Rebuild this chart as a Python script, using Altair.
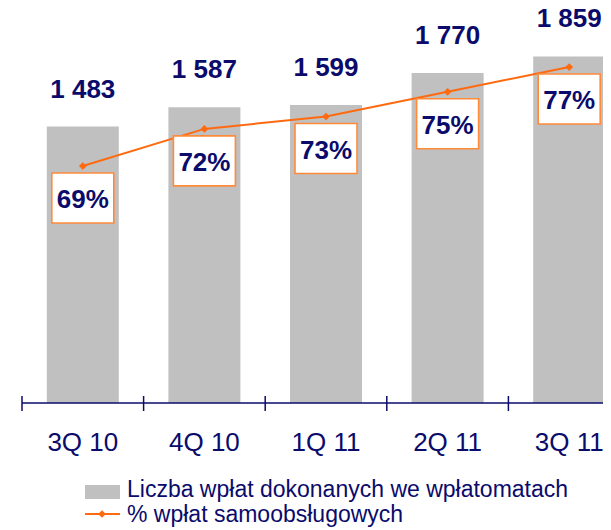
import altair as alt
import pandas as pd

# ---- data ----
categories = ["3Q 10", "4Q 10", "1Q 11", "2Q 11", "3Q 11"]
deposits = [1483, 1587, 1599, 1770, 1859]          # Liczba wpłat dokonanych we wpłatomatach
self_service_pct = [69, 72, 73, 75, 77]            # % wpłat samoobsługowych
legend_labels = ["Liczba wpłat dokonanych we wpłatomatach", "% wpłat samoobsługowych"]

NAVY = "#0b0b6b"
ORANGE = "#ff6a10"
BOX_ORANGE = "#ff8a3a"
GRAY = "#c0c0c0"
FONT = "Liberation Sans"

df = pd.DataFrame({
    "idx": list(range(len(categories))),
    "cat": categories,
    "count": deposits,
    "pct": self_service_pct,
})
df["count_label"] = [f"{v:,}".replace(",", " ") for v in deposits]
df["pct_label"] = [f"{v}%" for v in self_service_pct]

bounds = pd.DataFrame({"b": [i - 0.5 for i in range(len(categories))]})
one = pd.DataFrame({"a": [0]})

W, H = 581, 395
BAND = 121.6
xscale = alt.Scale(domain=[-0.5, -0.5 + W / BAND], nice=False, zero=False, padding=0)
x = alt.X("idx:Q", scale=xscale, axis=None)
ycount = alt.Y("count:Q", scale=alt.Scale(domain=[0, 2119], nice=False, padding=0), axis=None)
ypct = alt.Y("pct:Q", scale=alt.Scale(domain=[49.85, 81.77], nice=False, zero=False, padding=0),
             axis=None)

base = alt.Chart(df)

bars = base.mark_bar(size=72, color=GRAY).encode(x=x, y=ycount)
bar_text = base.mark_text(dy=-29, baseline="alphabetic", fontSize=26, fontWeight="bold",
                          font=FONT, color=NAVY).encode(x=x, y=ycount, text="count_label:N")

line = base.mark_line(color=ORANGE, strokeWidth=2).encode(x=x, y=ypct)
diamonds = base.mark_point(shape="diamond", filled=True, size=60, color=ORANGE,
                           opacity=1).encode(x=x, y=ypct)
boxes = base.mark_point(shape="M-1.24,-1L1.24,-1L1.24,1L-1.24,1Z", size=2500, filled=False,
                        fill="white", fillOpacity=1, stroke=BOX_ORANGE, strokeWidth=1.6,
                        opacity=1, yOffset=32).encode(x=x, y=ypct)
pct_text = base.mark_text(dy=42, baseline="alphabetic", fontSize=26, fontWeight="bold",
                          font=FONT, color=NAVY).encode(x=x, y=ypct, text="pct_label:N")

axis_line = alt.Chart(one).mark_rule(color=NAVY, strokeWidth=1.5).encode(
    x=alt.value(0), x2=alt.value(W), y=alt.value(H))
ticks = alt.Chart(bounds).mark_rule(color=NAVY, strokeWidth=1.5).encode(
    x=alt.X("b:Q", scale=xscale, axis=None), y=alt.value(H - 7), y2=alt.value(H + 8))
tick_labels = base.mark_text(baseline="alphabetic", fontSize=26, font=FONT,
                             color=NAVY).encode(x=x, y=alt.value(H + 48), text="cat:N")

leg_bar = alt.Chart(one).mark_rect(color=GRAY).encode(
    x=alt.value(63), x2=alt.value(98), y=alt.value(477), y2=alt.value(491))
leg_line = alt.Chart(one).mark_rule(color=ORANGE, strokeWidth=2).encode(
    x=alt.value(63), x2=alt.value(98), y=alt.value(506))
leg_diamond = alt.Chart(one).mark_point(shape="diamond", filled=True, size=60, color=ORANGE,
                                        opacity=1).encode(x=alt.value(80), y=alt.value(506))
leg_df = pd.DataFrame({"label": legend_labels, "row": [0, 1]})
leg_text = alt.Chart(leg_df).mark_text(align="left", baseline="alphabetic", fontSize=23,
                                       font=FONT, color=NAVY).encode(
    x=alt.value(105),
    y=alt.Y("row:Q", scale=alt.Scale(domain=[0, 1], range=[489, 514]), axis=None),
    text="label:N")

chart = alt.layer(
    bars, bar_text, line, diamonds, boxes, pct_text,
    axis_line, ticks, tick_labels,
    leg_bar, leg_line, leg_diamond, leg_text,
).resolve_scale(y="independent").properties(
    width=W, height=H,
    padding={"left": 14, "top": 0, "right": 0, "bottom": 125},
    autosize=alt.AutoSizeParams(type="none"),
).configure_view(stroke=None)

chart.save("out.html", embed_options={"renderer": "svg", "actions": False})
